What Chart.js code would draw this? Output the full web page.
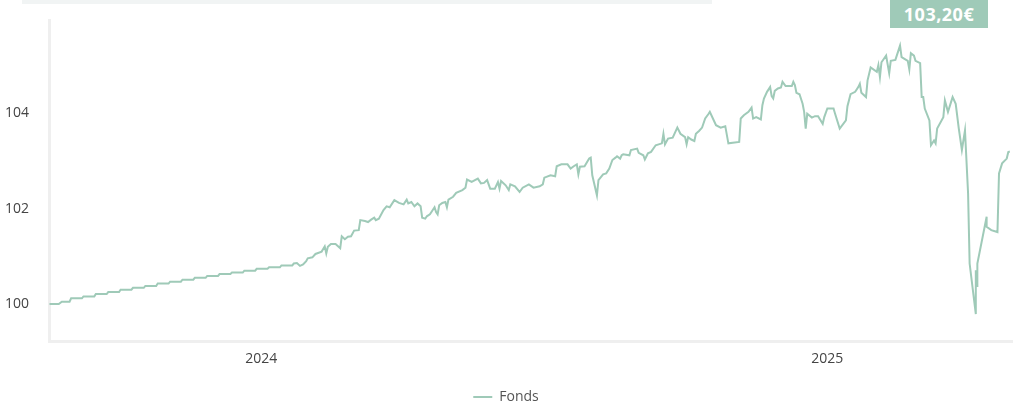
<!DOCTYPE html>
<html>
<head>
<meta charset="utf-8">
<script src="https://cdn.jsdelivr.net/npm/chart.js@4.4.1/dist/chart.umd.min.js"></script>
<style>
  body { margin: 0; background: #fff; font-family: 'Open Sans', sans-serif; }
  #wrap { position: relative; width: 1017px; height: 405px; }
  #topBar { position: absolute; left: 22px; top: 0; width: 690px; height: 4px; background: #f1f4f4; }
  #lastValue {
    position: absolute; left: 890px; top: 0; width: 98px; height: 28px;
    background: #9fcab8; color: #fff; font-weight: 700; font-size: 18px;
    line-height: 28px; text-align: center; letter-spacing: 0.5px;
  }
</style>
</head>
<body>
<div id="wrap">
  <canvas id="graficoFonds"></canvas>
  <div id="topBar"></div>
  <div id="lastValue"></div>
</div>
<script>
// premier jour de la série, les autres points sont des jours depuis cette date
const startDate = '2023-08-17';
const tickYears = ['2024', '2025'];
const yTicks = [100, 102, 104];
const seriesLabel = 'Fonds';

const dayOffsets = [
  0, 6, 8, 13, 14, 21, 22, 29, 30, 37, 38, 45, 46, 53, 54, 61, 62, 69, 70, 77,
  78, 85, 86, 93, 94, 101, 102, 109, 110, 117, 118, 125, 126, 133, 134, 141, 142, 149, 150, 157,
  158, 160, 162, 164, 166, 167, 170, 172, 176, 178, 179, 180, 182, 185, 188, 189, 191, 193, 195, 197,
  200, 201, 204, 206, 208, 210, 211, 213, 216, 218, 220, 223, 226, 229, 231, 232, 234, 236, 238, 240,
  241, 243, 244, 246, 247, 249, 250, 251, 252, 254, 256, 257, 258, 261, 263, 267, 269, 270, 273, 277,
  279, 281, 283, 285, 288, 290, 291, 292, 295, 297, 298, 301, 304, 306, 310, 313, 317, 319, 320, 324,
  327, 328, 331, 335, 337, 339, 341, 342, 343, 346, 349, 350, 351, 354, 355, 358, 360, 362, 364, 366,
  367, 369, 370, 371, 375, 376, 380, 381, 384, 385, 387, 389, 392, 396, 397, 398, 400, 403, 406, 408,
  411, 412, 413, 415, 417, 418, 420, 422, 424, 426, 427, 429, 431, 434, 437, 439, 446, 447, 449, 452,
  454, 455, 457, 460, 461, 462, 464, 466, 467, 468, 469, 471, 473, 474, 476, 480, 481, 482, 483, 485,
  487, 488, 489, 490, 493, 495, 497, 500, 501, 503, 507, 508, 511, 515, 516, 518, 521, 523, 524, 525,
  528, 529, 531, 535, 536, 537, 538, 541, 543, 544, 547, 550, 551, 555, 556, 557, 559, 560, 563, 564,
  565, 566, 569, 570, 572, 573, 574, 578, 579, 581, 584, 586, 588, 590, 592, 594, 595, 599, 599, 600,
  600, 606, 606, 609, 613, 614, 616, 619, 620, 621
];

const valeurs = [
  100.00, 100.00, 100.05, 100.05, 100.12, 100.12, 100.16, 100.16, 100.21, 100.21, 100.25, 100.25, 100.30, 100.30, 100.34, 100.34, 100.38, 100.38, 100.43, 100.43,
  100.47, 100.47, 100.51, 100.51, 100.55, 100.55, 100.59, 100.59, 100.63, 100.63, 100.66, 100.66, 100.70, 100.70, 100.74, 100.74, 100.77, 100.77, 100.81, 100.81,
  100.85, 100.86, 100.80, 100.83, 100.90, 100.96, 100.98, 101.05, 101.10, 101.21, 101.06, 101.20, 101.26, 101.26, 101.17, 101.42, 101.36, 101.41, 101.42, 101.54,
  101.55, 101.76, 101.74, 101.72, 101.77, 101.81, 101.76, 101.79, 101.97, 102.05, 102.03, 102.18, 102.12, 102.09, 102.19, 102.11, 102.14, 102.05, 102.11, 102.05,
  101.81, 101.79, 101.84, 101.88, 101.93, 102.03, 101.93, 101.88, 102.07, 102.12, 102.14, 102.03, 102.19, 102.25, 102.33, 102.39, 102.44, 102.61, 102.56, 102.63,
  102.53, 102.54, 102.60, 102.42, 102.42, 102.56, 102.42, 102.58, 102.49, 102.39, 102.51, 102.47, 102.35, 102.44, 102.51, 102.44, 102.47, 102.51, 102.65, 102.70,
  102.68, 102.89, 102.93, 102.93, 102.84, 102.89, 102.93, 102.72, 102.88, 102.89, 103.05, 103.07, 102.70, 102.28, 102.60, 102.72, 102.74, 102.84, 103.02, 103.07,
  103.10, 103.05, 103.12, 103.14, 103.12, 103.23, 103.26, 103.17, 103.12, 103.03, 103.16, 103.19, 103.33, 103.37, 103.57, 103.35, 103.47, 103.49, 103.70, 103.57,
  103.50, 103.35, 103.50, 103.45, 103.42, 103.57, 103.63, 103.70, 103.89, 103.98, 104.03, 103.89, 103.75, 103.70, 103.73, 103.37, 103.40, 103.89, 103.96, 104.03,
  104.12, 103.89, 103.92, 103.87, 104.17, 104.31, 104.45, 104.55, 104.36, 104.31, 104.47, 104.52, 104.54, 104.66, 104.57, 104.57, 104.66, 104.59, 104.43, 104.40,
  104.20, 104.03, 103.68, 103.99, 103.91, 103.94, 103.94, 103.78, 103.92, 104.10, 104.10, 103.99, 103.68, 103.85, 104.15, 104.40, 104.45, 104.55, 104.62, 104.43,
  104.34, 104.69, 104.96, 104.87, 105.01, 104.76, 105.07, 105.21, 104.84, 105.10, 105.12, 105.42, 105.18, 105.10, 104.92, 105.26, 105.21, 105.10, 105.05, 104.34,
  104.34, 104.10, 103.85, 103.33, 103.43, 103.37, 103.68, 103.92, 104.27, 104.03, 104.34, 104.20, 103.68, 103.23, 103.64, 102.32, 100.85, 99.79, 100.71, 100.36,
  100.85, 101.83, 101.62, 101.55, 101.51, 102.74, 102.95, 103.05, 103.19, 103.20
];

const corLinha = '#9fcab8';
const corEixo = '#efefef';

function diasDesdeInicio(isoDate) {
  return (Date.parse(isoDate) - Date.parse(startDate)) / 86400000;
}

const pontos = dayOffsets.map((d, i) => ({ x: d, y: valeurs[i] }));
const posicoesAnos = tickYears.map(a => diasDesdeInicio(a + '-01-01'));

// valeur affichée en haut à droite
const ultimo = valeurs[valeurs.length - 1];
document.getElementById('lastValue').textContent = ultimo.toFixed(2).replace('.', ',') + '€';

Chart.defaults.font.family = "'Open Sans', sans-serif";
Chart.defaults.color = '#444';

const ctx = document.getElementById('graficoFonds').getContext('2d');
new Chart(ctx, {
  type: 'line',
  data: {
    datasets: [{
      label: seriesLabel,
      data: pontos,
      borderColor: corLinha,
      backgroundColor: corLinha,
      borderWidth: 2,
      pointRadius: 0,
      pointStyle: 'line',
      tension: 0,
      fill: false
    }]
  },
  options: {
    responsive: true,
    maintainAspectRatio: false,
    animation: false,
    layout: { padding: { top: 20, right: 5, left: 0, bottom: -9 } },
    plugins: {
      legend: {
        position: 'bottom',
        labels: {
          usePointStyle: true,
          pointStyle: 'line',
          pointStyleWidth: 19,
          padding: 2,
          color: '#555',
          font: { size: 14 }
        }
      },
      tooltip: { enabled: false }
    },
    scales: {
      x: {
        type: 'linear',
        min: -0.3,
        max: 622.4,
        grid: { display: false },
        border: { display: true, color: corEixo, width: 3 },
        afterBuildTicks: (scale) => {
          scale.ticks = posicoesAnos.map(v => ({ value: v }));
        },
        afterFit: (scale) => { scale.height = 47; },
        ticks: {
          padding: 2,
          font: { size: 14 },
          color: '#444',
          callback: (value) => {
            const i = posicoesAnos.indexOf(value);
            return i >= 0 ? tickYears[i] : '';
          }
        }
      },
      y: {
        min: 99.225,
        max: 105.948,
        grid: { display: false },
        border: { display: true, color: corEixo, width: 3 },
        afterBuildTicks: (scale) => {
          scale.ticks = yTicks.map(v => ({ value: v }));
        },
        afterFit: (scale) => { scale.width = 49; },
        ticks: {
          padding: 12,
          font: { size: 14 },
          color: '#444'
        }
      }
    }
  }
});
</script>
</body>
</html>
